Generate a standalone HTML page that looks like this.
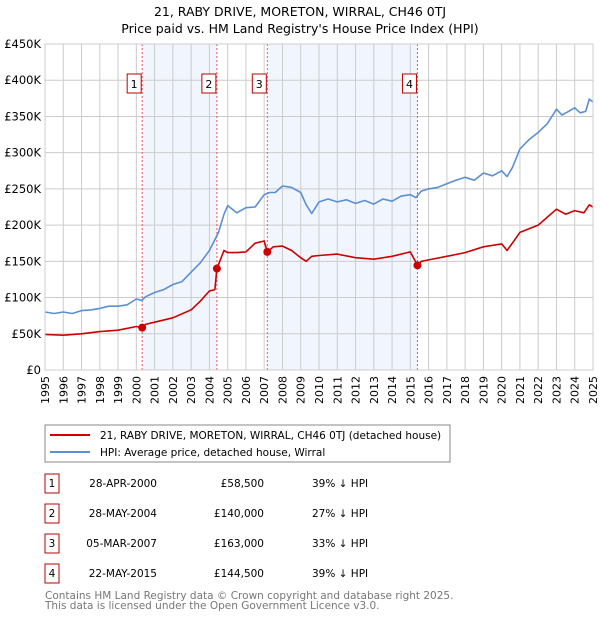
<!DOCTYPE html>
<html><head><meta charset="utf-8"><style>
body{margin:0;background:#fff;font-family:"DejaVu Sans","Liberation Sans",sans-serif;}
svg text{font-family:"DejaVu Sans","Liberation Sans",sans-serif;}
</style></head><body>
<svg id="chart" width="600" height="620" xmlns="http://www.w3.org/2000/svg">
<text x="300" y="16" text-anchor="middle" font-size="12.5">21, RABY DRIVE, MORETON, WIRRAL, CH46 0TJ</text>
<text x="300" y="33" text-anchor="middle" font-size="12.5">Price paid vs. HM Land Registry's House Price Index (HPI)</text>
<g id="plot"></g>
<g>
<rect x="45" y="425" width="405" height="37" fill="#fff" stroke="#888"/>
<line x1="50" y1="435" x2="90" y2="435" stroke="#cc0000" stroke-width="2"/>
<text x="100" y="439" font-size="10.5">21, RABY DRIVE, MORETON, WIRRAL, CH46 0TJ (detached house)</text>
<line x1="50" y1="452" x2="90" y2="452" stroke="#5b8fd4" stroke-width="2"/>
<text x="100" y="456" font-size="10.5">HPI: Average price, detached house, Wirral</text>
</g>
<g id="table" font-size="10.5"></g>
<text x="45" y="599" font-size="10.5" fill="#777">Contains HM Land Registry data © Crown copyright and database right 2025.</text>
<text x="45" y="609" font-size="10.5" fill="#777">This data is licensed under the Open Government Licence v3.0.</text>
</svg>
<script>
const yTicks=[0,50,100,150,200,250,300,350,400,450];
const yTickLabels=["£0","£50K","£100K","£150K","£200K","£250K","£300K","£350K","£400K","£450K"];
const years=[1995,1996,1997,1998,1999,2000,2001,2002,2003,2004,2005,2006,2007,2008,2009,2010,2011,2012,2013,2014,2015,2016,2017,2018,2019,2020,2021,2022,2023,2024,2025];
const hpiT=[1995,1995.5,1996,1996.5,1997,1997.5,1998,1998.5,1999,1999.5,2000,2000.3,2000.5,2001,2001.5,2002,2002.5,2003,2003.5,2004,2004.3,2004.5,2004.8,2005,2005.5,2006,2006.5,2007,2007.3,2007.6,2008,2008.5,2009,2009.3,2009.6,2010,2010.5,2011,2011.5,2012,2012.5,2013,2013.5,2014,2014.5,2015,2015.3,2015.6,2016,2016.5,2017,2017.5,2018,2018.5,2019,2019.5,2020,2020.3,2020.6,2021,2021.5,2022,2022.5,2023,2023.3,2023.6,2024,2024.3,2024.6,2024.8,2025];
const hpiV=[80,78,80,78,82,83,85,88,88,90,98,96,101,107,111,118,122,135,148,165,180,190,215,227,217,224,225,242,245,245,254,252,245,228,216,232,236,232,235,230,234,229,236,233,240,242,238,247,250,252,257,262,266,262,272,268,275,267,280,305,318,328,340,360,352,356,362,355,357,374,370];
const ppT=[1995,1996,1997,1998,1999,2000,2000.32,2000.5,2001,2002,2003,2003.5,2004,2004.3,2004.41,2004.8,2005,2005.5,2006,2006.5,2007,2007.17,2007.5,2008,2008.5,2009,2009.3,2009.6,2010,2011,2012,2013,2014,2015,2015.39,2015.6,2016,2017,2018,2019,2020,2020.3,2021,2022,2023,2023.5,2024,2024.5,2024.8,2025];
const ppV=[49,48,50,53,55,60,58.5,63,66,72,83,95,109,111,140,165,162,162,163,175,178,163,170,171,165,155,150,157,158,160,155,153,157,163,144.5,150,152,157,162,170,174,165,190,200,222,215,220,217,228,225];
const saleT=[2000.32,2004.41,2007.17,2015.39];
const saleV=[58.5,140,163,144.5];
const saleLabels=["1","2","3","4"];
const saleDates=["28-APR-2000","28-MAY-2004","05-MAR-2007","22-MAY-2015"];
const salePrices=["£58,500","£140,000","£163,000","£144,500"];
const saleHpi=["39% ↓ HPI","27% ↓ HPI","33% ↓ HPI","39% ↓ HPI"];

const X0=45,X1=593,Y0=370,Y1=44;
const xs=t=>X0+(t-1995)/30*(X1-X0);
const ys=v=>Y0-v/450*(Y0-Y1);
const NS="http://www.w3.org/2000/svg";
const plot=document.getElementById('plot');
function mk(tag,attrs,parent){const e=document.createElementNS(NS,tag);for(const k in attrs)e.setAttribute(k,attrs[k]);(parent||plot).appendChild(e);return e;}
// shaded periods
for(let i=0;i<saleT.length;i+=2){
 const r=mk('rect',{x:xs(saleT[i]),y:Y1,width:xs(saleT[i+1])-xs(saleT[i]),height:Y0-Y1,fill:'#eef3fc',opacity:0.8});
 
 
}
// grid
years.forEach(y=>{const l=mk('line',{x1:xs(y),x2:xs(y),y1:Y1,y2:Y0,stroke:'#ccc','stroke-width':1});
 
 
 const t=mk('text',{x:0,y:0,'font-size':11,'text-anchor':'end',transform:`translate(${xs(y)+4},${Y0+6}) rotate(-90)`});
 t.textContent=y;
 
 
});
yTicks.forEach((v,i)=>{const l=mk('line',{x1:X0,x2:X1,y1:ys(v),y2:ys(v),stroke:'#ccc','stroke-width':1});
 
 
 const t=mk('text',{x:X0-4,y:ys(v)+4,'font-size':11.5,'text-anchor':'end'});
 t.textContent=yTickLabels[i];
 
 
});
// sale lines
saleT.forEach((t,i)=>{const l=mk('line',{x1:xs(t),x2:xs(t),y1:Y1,y2:Y0,stroke:'#e55','stroke-width':1,'stroke-dasharray':'2,2'});
 
 
 const b=mk('rect',{x:xs(t)-15,y:74,width:14,height:19,fill:'#fff',stroke:'#b00','stroke-width':1});
 
 
 const tx=mk('text',{x:xs(t)-8,y:88,'font-size':11,'text-anchor':'middle'});
 tx.textContent=saleLabels[i];
 
 
});
function path(T,V,color,name){const d=T.map((t,i)=>(i?'L':'M')+xs(t).toFixed(1)+','+ys(V[i]).toFixed(1)).join('');
 const p=mk('path',{d:d,fill:'none',stroke:color,'stroke-width':1.6,'stroke-linejoin':'round'});
 
 }
path(hpiT,hpiV,'#5b8fd4','hpi-line');
path(ppT,ppV,'#cc0000','price-paid-line');
saleT.forEach((t,i)=>{const c=mk('circle',{cx:xs(t),cy:ys(saleV[i]),r:4,fill:'#cc0000'});
 
 });
mk('rect',{x:X0,y:Y1,width:X1-X0,height:Y0-Y1,fill:'none',stroke:'#ccc'});
// table
const tb=document.getElementById('table');
saleT.forEach((t,i)=>{const cy=483+i*30;
 const b=mk('rect',{x:45,y:cy-9,width:14,height:19,fill:'#fff',stroke:'#b00'},tb);
 
 
 const cells=[[52,'middle',saleLabels[i],'table-row-number'],[157,'end',saleDates[i],'table-row-date'],[264,'end',salePrices[i],'table-row-price'],[312,'start',saleHpi[i],'table-row-hpi']];
 cells.forEach(c=>{const e=mk('text',{x:c[0],y:cy+4,'text-anchor':c[1]},tb);
  e.textContent=c[2];
  
  });
});
</script>
</body></html>
